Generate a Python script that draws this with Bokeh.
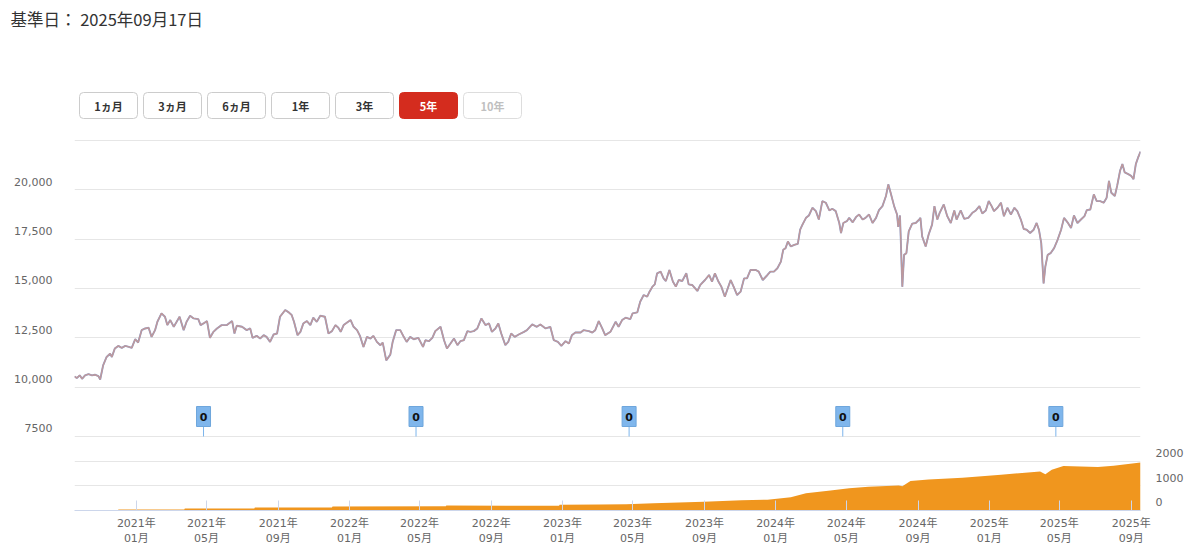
import pandas as pd
from bokeh.plotting import figure
from bokeh.models import (Range1d, LinearAxis, FixedTicker, DatetimeTickFormatter,
                          Grid, ColumnDataSource)
from bokeh.embed import file_html
from bokeh.resources import INLINE
from bokeh.core.properties import value

FONT_JP = "Noto Sans CJK JP"
FONT_AX = "DejaVu Sans, Noto Sans CJK JP"

# ---------------------------------------------------------------- data
base_date_text = "基準日： 2025年09月17日"
period_labels = ["1ヵ月", "3ヵ月", "6ヵ月", "1年", "3年", "5年", "10年"]
active_period = "5年"
disabled_periods = ["10年"]

period_start = "2020-09-17"
period_end = "2025-09-17"

price_dates = [
    "2020-09-17", "2020-09-21", "2020-09-26", "2020-09-30", "2020-10-05", "2020-10-11", "2020-10-17",
    "2020-10-22", "2020-10-28", "2020-10-31", "2020-11-05", "2020-11-11", "2020-11-17", "2020-11-20",
    "2020-11-25", "2020-12-01", "2020-12-07", "2020-12-13", "2020-12-19", "2020-12-24", "2020-12-30",
    "2021-01-04", "2021-01-10", "2021-01-16", "2021-01-22", "2021-01-27", "2021-02-02", "2021-02-06",
    "2021-02-13", "2021-02-19", "2021-02-23", "2021-02-28", "2021-03-06", "2021-03-11", "2021-03-16",
    "2021-03-23", "2021-03-28", "2021-04-03", "2021-04-09", "2021-04-17", "2021-04-21", "2021-04-26",
    "2021-05-02", "2021-05-07", "2021-05-13", "2021-05-19", "2021-05-27", "2021-06-05", "2021-06-14",
    "2021-06-18", "2021-06-22", "2021-07-01", "2021-07-09", "2021-07-15", "2021-07-19", "2021-07-26",
    "2021-08-01", "2021-08-07", "2021-08-12", "2021-08-18", "2021-08-24", "2021-08-30", "2021-09-04",
    "2021-09-13", "2021-09-19", "2021-09-24", "2021-09-28", "2021-10-04", "2021-10-09", "2021-10-14",
    "2021-10-20", "2021-10-26", "2021-10-31", "2021-11-06", "2021-11-12", "2021-11-20", "2021-11-26",
    "2021-12-02", "2021-12-08", "2021-12-13", "2021-12-17", "2021-12-22", "2021-12-28", "2022-01-03",
    "2022-01-08", "2022-01-14", "2022-01-19", "2022-01-25", "2022-01-31", "2022-02-06", "2022-02-11",
    "2022-02-17", "2022-02-23", "2022-02-27", "2022-03-05", "2022-03-12", "2022-03-16", "2022-03-22",
    "2022-03-29", "2022-04-04", "2022-04-09", "2022-04-15", "2022-04-21", "2022-04-29", "2022-05-07",
    "2022-05-11", "2022-05-17", "2022-05-23", "2022-05-28", "2022-06-06", "2022-06-12", "2022-06-17",
    "2022-06-23", "2022-06-29", "2022-07-05", "2022-07-10", "2022-07-16", "2022-07-22", "2022-07-27",
    "2022-08-02", "2022-08-08", "2022-08-15", "2022-08-22", "2022-08-28", "2022-09-02", "2022-09-08",
    "2022-09-13", "2022-09-18", "2022-09-25", "2022-09-30", "2022-10-05", "2022-10-11", "2022-10-18",
    "2022-10-27", "2022-11-01", "2022-11-10", "2022-11-18", "2022-11-24", "2022-12-03", "2022-12-11",
    "2022-12-17", "2022-12-24", "2022-12-30", "2023-01-06", "2023-01-12", "2023-01-17", "2023-01-23",
    "2023-02-01", "2023-02-06", "2023-02-15", "2023-02-21", "2023-02-26", "2023-03-04", "2023-03-10",
    "2023-03-15", "2023-03-24", "2023-04-02", "2023-04-07", "2023-04-13", "2023-04-19", "2023-04-27",
    "2023-05-01", "2023-05-09", "2023-05-14", "2023-05-20", "2023-05-26", "2023-05-30", "2023-06-04",
    "2023-06-08", "2023-06-12", "2023-06-18", "2023-06-23", "2023-06-27", "2023-07-03", "2023-07-09",
    "2023-07-14", "2023-07-19", "2023-07-25", "2023-08-01", "2023-08-05", "2023-08-11", "2023-08-20",
    "2023-08-25", "2023-09-02", "2023-09-09", "2023-09-14", "2023-09-19", "2023-09-25", "2023-09-30",
    "2023-10-06", "2023-10-12", "2023-10-16", "2023-10-21", "2023-10-27", "2023-11-02", "2023-11-08",
    "2023-11-13", "2023-11-19", "2023-11-28", "2023-12-03", "2023-12-10", "2023-12-18", "2023-12-23",
    "2023-12-29", "2024-01-04", "2024-01-10", "2024-01-14", "2024-01-18", "2024-01-22", "2024-01-27",
    "2024-02-02", "2024-02-08", "2024-02-12", "2024-02-16", "2024-02-22", "2024-02-27", "2024-03-04",
    "2024-03-10", "2024-03-15", "2024-03-21", "2024-03-27", "2024-04-02", "2024-04-07", "2024-04-13",
    "2024-04-19", "2024-04-22", "2024-04-26", "2024-05-02", "2024-05-06", "2024-05-12", "2024-05-18",
    "2024-05-23", "2024-05-29", "2024-06-03", "2024-06-09", "2024-06-15", "2024-06-21", "2024-06-26",
    "2024-07-02", "2024-07-08", "2024-07-12", "2024-07-16", "2024-07-22", "2024-07-27", "2024-07-29",
    "2024-08-01", "2024-08-02", "2024-08-05", "2024-08-08", "2024-08-12", "2024-08-16", "2024-08-22",
    "2024-08-28", "2024-09-03", "2024-09-05", "2024-09-08", "2024-09-14", "2024-09-19", "2024-09-25",
    "2024-09-29", "2024-10-04", "2024-10-08", "2024-10-15", "2024-10-21", "2024-10-27", "2024-11-02",
    "2024-11-06", "2024-11-13", "2024-11-19", "2024-11-26", "2024-12-03", "2024-12-09", "2024-12-15",
    "2024-12-20", "2024-12-26", "2024-12-31", "2025-01-05", "2025-01-09", "2025-01-15", "2025-01-21",
    "2025-01-26", "2025-02-01", "2025-02-07", "2025-02-13", "2025-02-18", "2025-02-24", "2025-03-01",
    "2025-03-06", "2025-03-12", "2025-03-18", "2025-03-23", "2025-03-27", "2025-03-31", "2025-04-04",
    "2025-04-07", "2025-04-11", "2025-04-16", "2025-04-22", "2025-04-28", "2025-05-04", "2025-05-09",
    "2025-05-15", "2025-05-21", "2025-05-26", "2025-06-01", "2025-06-07", "2025-06-13", "2025-06-17",
    "2025-06-23", "2025-06-29", "2025-07-04", "2025-07-10", "2025-07-16", "2025-07-21", "2025-07-25",
    "2025-07-29", "2025-08-04", "2025-08-08", "2025-08-13", "2025-08-17", "2025-08-21", "2025-08-27",
    "2025-09-01", "2025-09-05", "2025-09-09", "2025-09-13", "2025-09-17",
]
price_values = [
    10544, 10460, 10600, 10425, 10595, 10660, 10595,
    10630, 10560, 10390, 11100, 11530, 11700, 11530,
    11955, 12090, 11990, 12090, 12040, 11990, 12430,
    12260, 12890, 12975, 13010, 12550, 12890, 13315,
    13740, 13570, 13145, 13400, 13060, 13315, 13570,
    12890, 13315, 13620, 13485, 13450, 13145, 13230,
    13350, 12500, 12805, 12975, 13145, 13145, 13350,
    12720, 13110, 13060, 12890, 12975, 12500, 12600,
    12465, 12635, 12550, 12295, 12670, 12720, 13570,
    13910, 13790, 13655, 13315, 12635, 12805, 13230,
    13350, 13145, 13520, 13315, 13620, 13570, 12720,
    12840, 13145, 13010, 12805, 13145, 13280, 13400,
    13060, 12890, 12600, 12040, 12550, 12465, 12600,
    12295, 12125, 12260, 11360, 11650, 12295, 12890,
    12890, 12550, 12295, 12550, 12430, 12500, 12040,
    12380, 12330, 12500, 12840, 13060, 12380, 11960,
    12210, 12465, 12130, 12330, 12380, 12840, 12805,
    12840, 12975, 13485, 13145, 13230, 12805, 12975,
    13230, 12720, 12130, 12295, 12720, 12550, 12670,
    12805, 12890, 13180, 13060, 13180, 12975, 13060,
    12380, 12295, 12095, 12330, 12210, 12635, 12770,
    12770, 12890, 12840, 12770, 12890, 13350, 12975,
    12635, 12805, 13315, 13060, 13400, 13520, 13450,
    13740, 13790, 14330, 14670, 14585, 14840, 15095,
    15210, 15770, 15855, 15515, 15380, 15940, 15350,
    15095, 15430, 15380, 15770, 15210, 15180, 14875,
    15180, 15430, 15685, 15350, 15770, 15350, 15095,
    14585, 15095, 15430, 15095, 14670, 14840, 15515,
    15515, 15940, 15940, 15855, 15430, 15685, 15855,
    15855, 16025, 16365, 16960, 17045, 17385, 17130,
    17215, 17265, 17980, 18240, 18580, 18700, 19090,
    18920, 18495, 19430, 19345, 18955, 19040, 18920,
    18320, 17810, 18320, 18410, 18580, 18355, 18630,
    18750, 18495, 18580, 18750, 18320, 18580, 18970,
    19175, 19685, 20280, 19855, 19175, 18750, 18120,
    18700, 17810, 15085, 16705, 16790, 17895, 18290,
    18320, 18495, 18580, 17640, 17130, 17725, 18240,
    19175, 18495, 18835, 19260, 18665, 18320, 18955,
    18495, 18955, 18530, 18580, 18835, 18955, 19175,
    18800, 18955, 19430, 19175, 18920, 19090, 19345,
    18665, 19090, 18750, 19090, 18920, 18495, 18015,
    17980, 17810, 17980, 18320, 17980, 17300, 15255,
    16110, 16705, 16790, 17045, 17470, 17980, 18580,
    18355, 18070, 18700, 18320, 18495, 18665, 18970,
    19005, 19770, 19430, 19430, 19345, 19600, 20455,
    19855, 19685, 20200, 20965, 21305, 20880, 20795,
    20710, 20540, 21305, 21645, 21935,
]

asset_dates = [
    "2020-12-01", "2021-03-24", "2021-03-25", "2021-07-22", "2021-07-23", "2021-12-02",
    "2021-12-03", "2022-06-15", "2022-06-16", "2022-09-26", "2022-12-26", "2022-12-27",
    "2023-03-06", "2023-04-20", "2023-06-06", "2023-08-31", "2023-11-04", "2023-12-18",
    "2024-01-27", "2024-02-22", "2024-04-04", "2024-05-06", "2024-06-08", "2024-07-30",
    "2024-08-05", "2024-08-19", "2024-09-19", "2024-11-16", "2025-01-21", "2025-03-29",
    "2025-04-07", "2025-04-18", "2025-05-08", "2025-07-06", "2025-08-02", "2025-09-17",
]
asset_values = [
    40, 42, 80, 85, 120, 125,
    160, 170, 200, 190, 195, 230,
    245, 250, 290, 355, 415, 440,
    540, 700, 810, 900, 960, 1010,
    980, 1200, 1260, 1330, 1450, 1580,
    1470, 1650, 1800, 1760, 1810, 1950,
]

dividend_dates = ["2021-04-26", "2022-04-25", "2023-04-25", "2024-04-25", "2025-04-25"]
dividend_values = [0, 0, 0, 0, 0]

x_tick_dates = ["2021-01-01", "2021-05-01", "2021-09-01", "2022-01-01", "2022-05-01",
                "2022-09-01", "2023-01-01", "2023-05-01", "2023-09-01", "2024-01-01",
                "2024-05-01", "2024-09-01", "2025-01-01", "2025-05-01", "2025-09-01"]
price_ticks = [7500, 10000, 12500, 15000, 17500, 20000, 22500]
price_tick_labels = ["7500", "10,000", "12,500", "15,000", "17,500", "20,000", ""]
asset_ticks = [0, 1000, 2000]
asset_tick_labels = ["0", "1000", "2000"]

# ---------------------------------------------------------------- layout constants
PAGE_W = 1200
HEADER_H = 139
FRAME_W = 1066
FRAME_H = 371
BORDER_L = 74
BORDER_R = 60
PRICE_FLOOR = 7500
PRICE_MIN, PRICE_MAX = 3750, 22551
ASSET_MAX = 15040
UNITS_PER_PX = (PRICE_MAX - PRICE_MIN) / FRAME_H

GRID_COLOR = "#e6e6e6"
LABEL_COLOR = "#666666"
AXIS_COLOR = "#ccd6eb"

# ---------------------------------------------------------------- header
hdr = figure(width=PAGE_W, height=HEADER_H, x_range=Range1d(0, PAGE_W),
             y_range=Range1d(HEADER_H, 0), x_axis_type=None, y_axis_type=None,
             toolbar_location=None, output_backend="svg", outline_line_color=None,
             min_border_left=0, min_border_right=0, min_border_top=0, min_border_bottom=0)

hdr.text(x=[10], y=[18], text=[base_date_text], text_font=value(FONT_JP),
         text_font_size="16.5px", text_color="#333333", text_baseline="middle",
         text_align="left")

BTN_X0, BTN_W, BTN_GAP, BTN_TOP, BTN_BOT = 79, 58, 6, 92, 118
lefts = [BTN_X0 + i * (BTN_W + BTN_GAP) for i in range(len(period_labels))]
btn_src = ColumnDataSource(dict(
    left=lefts,
    right=[l + BTN_W for l in lefts],
    top=[BTN_TOP] * len(lefts),
    bottom=[BTN_BOT] * len(lefts),
    cx=[l + BTN_W / 2 for l in lefts],
    cy=[(BTN_TOP + BTN_BOT) / 2] * len(lefts),
    label=period_labels,
    fill=["#d42c1e" if l == active_period else "#ffffff" for l in period_labels],
    line=["#d42c1e" if l == active_period else ("#dddddd" if l in disabled_periods else "#cccccc")
          for l in period_labels],
    tcolor=["#ffffff" if l == active_period else ("#c0c0c0" if l in disabled_periods else "#333333")
            for l in period_labels],
))
try:
    hdr.quad(left="left", right="right", top="top", bottom="bottom", source=btn_src,
             fill_color="fill", line_color="line", line_width=1, border_radius=4)
except Exception:
    hdr.quad(left="left", right="right", top="top", bottom="bottom", source=btn_src,
             fill_color="fill", line_color="line", line_width=1)
hdr.text(x="cx", y="cy", text="label", source=btn_src, text_color="tcolor",
         text_font=value(FONT_JP), text_font_size="11px", text_font_style="bold",
         text_align="center", text_baseline="middle")

# ---------------------------------------------------------------- chart
p = figure(frame_width=FRAME_W, frame_height=FRAME_H, x_axis_type="datetime",
           x_range=Range1d(pd.Timestamp(period_start), pd.Timestamp(period_end)),
           y_range=Range1d(PRICE_MIN, PRICE_MAX), toolbar_location=None,
           output_backend="svg", outline_line_color=None,
           min_border_left=BORDER_L, min_border_right=BORDER_R,
           min_border_top=0, min_border_bottom=38)
p.extra_y_ranges = {"asset": Range1d(0, ASSET_MAX)}

p.xgrid.visible = False
p.ygrid.ticker = FixedTicker(ticks=price_ticks)
p.ygrid.grid_line_color = GRID_COLOR
p.add_layout(Grid(dimension=1, ticker=FixedTicker(ticks=[t for t in asset_ticks if t > 0]),
                  y_range_name="asset", grid_line_color=GRID_COLOR))

# left axis (price)
ya = p.yaxis[0]
ya.ticker = FixedTicker(ticks=price_ticks)
ya.major_label_overrides = {t: (lab + "\n" if lab else "") for t, lab in zip(price_ticks, price_tick_labels)}
ya.axis_line_color = None
ya.major_tick_line_color = None
ya.minor_tick_line_color = None
ya.major_label_text_color = LABEL_COLOR
ya.major_label_text_font = FONT_AX
ya.major_label_text_font_size = "11px"
ya.major_label_standoff = 16

# right axis (net assets)
ra = LinearAxis(y_range_name="asset", ticker=FixedTicker(ticks=asset_ticks),
                major_label_overrides={t: lab + "\n" for t, lab in zip(asset_ticks, asset_tick_labels)},
                axis_line_color=None, major_tick_line_color=None, minor_tick_line_color=None,
                major_label_text_color=LABEL_COLOR, major_label_text_font=FONT_AX,
                major_label_text_font_size="11px", major_label_standoff=9)
p.add_layout(ra, "right")

# bottom axis
xa = p.xaxis[0]
xa.ticker = FixedTicker(ticks=[pd.Timestamp(d).value // 10**6 for d in x_tick_dates])
fmt = "%Y年\n%m月"
xa.formatter = DatetimeTickFormatter(microseconds=fmt, milliseconds=fmt, seconds=fmt,
                                     minsec=fmt, minutes=fmt, hourmin=fmt, hours=fmt,
                                     days=fmt, months=fmt, years=fmt)
xa.axis_line_color = AXIS_COLOR
xa.major_tick_line_color = AXIS_COLOR
xa.major_tick_in = 10
xa.major_tick_out = 0
xa.minor_tick_line_color = None
xa.major_label_text_color = LABEL_COLOR
xa.major_label_text_font = FONT_AX
xa.major_label_text_font_size = "11px"
xa.major_label_standoff = 6

# net assets area
asset_dt = pd.to_datetime(asset_dates)
p.varea(x=asset_dt, y1=0, y2=asset_values, y_range_name="asset",
        fill_color="#f0961e", fill_alpha=1.0)

# price lines
price_dt = pd.to_datetime(price_dates)
p.line(price_dt, price_values, line_color="#8c9ecb", line_width=1.9)
p.line(price_dt, price_values, line_color="#bf989b", line_width=1.4)

# dividend flags
div_dt = pd.to_datetime(dividend_dates)
flag_cy = PRICE_FLOOR + 20 * UNITS_PER_PX
stem_top = PRICE_FLOOR + 10 * UNITS_PER_PX
p.segment(x0=div_dt, y0=[PRICE_FLOOR] * len(div_dt), x1=div_dt, y1=[stem_top] * len(div_dt),
          line_color="#7cb5ec", line_width=1)
p.rect(x=div_dt, y=[flag_cy] * len(div_dt), width=14, height=20,
       width_units="screen", height_units="screen",
       fill_color="#7fb6ec", line_color="#6ea6dc", line_width=1)
p.text(x=div_dt, y=[flag_cy] * len(div_dt), text=[str(v) for v in dividend_values],
       text_font=value(FONT_AX), text_font_size="11px", text_font_style="bold",
       text_color="#111111", text_align="center", text_baseline="middle")

open("out.html", "w").write(file_html([hdr, p], INLINE))
